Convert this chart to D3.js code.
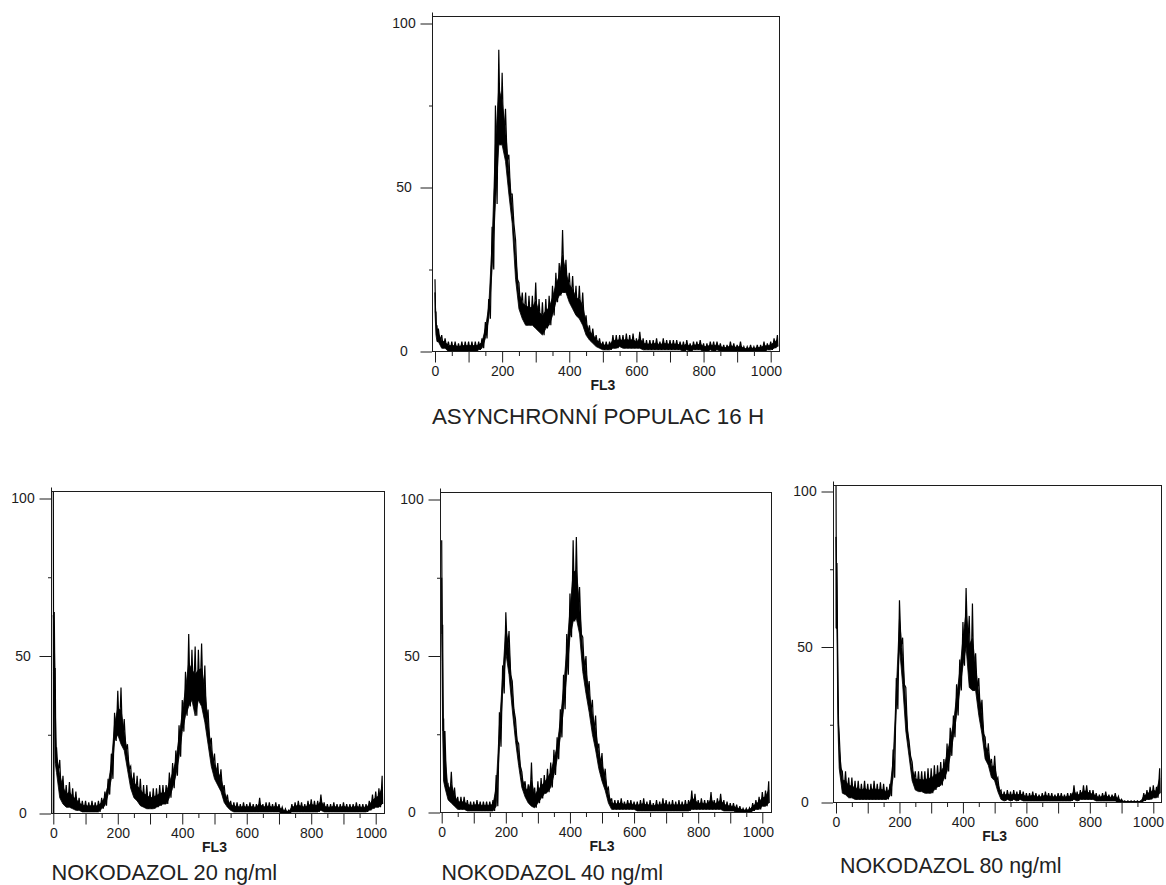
<!DOCTYPE html>
<html><head><meta charset="utf-8">
<script src="https://cdn.jsdelivr.net/npm/d3@7"></script>
<style>
body{margin:0;background:#fff}
svg{display:block}
text{font-family:"Liberation Sans",Arial,sans-serif}
</style>
</head><body>
<svg id="c" width="1166" height="885"></svg>
<script>
// FL3 channel grid (histogram bins)
const channels = [0,3,6,
  10,20,30,40,50,60,70,80,90,100,
  110,120,130,140,150,160,170,180,190,200,
  210,220,230,240,250,260,270,280,290,300,
  310,320,330,340,350,360,370,380,390,400,
  410,420,430,440,450,460,470,480,490,500,
  510,520,530,540,550,560,570,580,590,600,
  610,620,630,640,650,660,670,680,690,700,
  710,720,730,740,750,760,770,780,790,800,
  810,820,830,840,850,860,870,880,890,900,
  910,920,930,940,950,960,970,980,990,1000,
  1010,1020];

// ASYNCHRONNÍ POPULAC 16 H : upper / lower envelope of counts per bin
const asyncHi = [22,12,8,
  7,5,4,3,3,3,2.5,3,3,3,
  3,3,3,4,9,16,38,75,92,85,
  74,60,48,34,21,18,18,17,17,21,
  16,15,16,17,20,24,27,37,28,24,
  23,20,20,18,11,8,7,5,4,3,
  3,3,5,5,5,5,5.5,5,5.5,4,
  6,4,3.5,3.5,3.5,4,3,4,3.5,3.5,
  3.5,3.5,3,3,3.5,2.5,3,3,3.5,2.5,
  2.5,3,3,3,2.5,2,2,3,2.5,2,
  3,1.5,1.5,2,1.5,2,2,3,2.5,3,
  4,5];
const asyncLo = [12,5,3,
  3,1,1,0,0,0,0,0,0,0,
  0,0,0.5,1,4,10,25,45,63,63,
  58,48,39,22,13,10,8,8,8,7,
  6,5,7,8,11,15,17,18,18,15,
  13,11,10,8,5,3.5,2.5,1.5,1,0.5,
  0.5,0.5,1,1,1.5,1,1,1,1,1,
  1,0.5,0.5,0.5,0.5,0.5,0.5,0.5,0.5,0.5,
  0.5,0.5,0.5,0,0.5,0,0.5,0.5,0.5,0,
  0,0.5,0,0.5,0,0,0,0,0,0,
  0,0,0,0,0,0,0,0,0.5,0.5,
  1,1.5];

// NOKODAZOL 20 ng/ml
const noc20Hi = [105,64,46,
  21,17,12,9,10,8,7,5,4,4,
  3.5,4,3.5,4,5,7,11,19,32,39,
  40,30,22,15,13,12,11,9,9,7,
  8,8,9,9,9,13,16,20,28,36,
  45,57,52,53,52,54,47,33,24,19,
  16,14,9,6,4,3.5,3.5,3,3.5,3,
  3.5,3,3,5,3,3.5,3.5,3,3.5,3,
  2,1.5,1,3,3.5,4,3.5,3,4,4.5,
  4,4,6,3.5,3,3,3.5,3,3,3.5,
  3,3,3,3.5,3,3,3,4,6,7,
  8,12];
const noc20Lo = [0,46,16,
  13,5,3,2,2,1.5,1,1,0.5,0.5,
  0.5,0.5,0.5,0.5,1.5,2.5,6,11,23,25,
  22,20,14,8,5,4,2.5,2,1.5,1.5,
  1.5,2,2.5,3,3,5,8,12,18,26,
  31,34,36,31,36,34,29,22,15,11,
  9,7,3.5,2,1,0.5,0.5,0.5,0.5,0.5,
  0.5,0.5,0.5,0.5,0.5,0.5,0.5,0.5,0.5,0.5,
  0,0,0,0.5,0.5,0.5,0.5,0.5,0.5,0.5,
  0.5,0.5,1,0.5,0.5,0.5,0.5,0.5,0.5,0.5,
  0.5,0.5,0.5,0.5,0.5,0.5,0.5,1,1.5,2,
  2,3];

// NOKODAZOL 40 ng/ml
const noc40Hi = [87,60,30,
  26,9,13,8,5,5,5,4,3.5,3.5,
  4,3.5,3.5,3.5,3.5,4,12,32,47,64,
  58,42,30,22,13,10,9,16,8,10,
  11,12,14,16,20,24,33,44,57,70,
  87,88,72,56,50,42,36,31,22,19,
  14,8,4.5,4,4,4.5,3.5,4,4,3.5,
  3.5,4,4.5,3.5,4,3,4,3.5,4.5,4,
  3.5,4,3.5,4,3.5,4,4,7,6,4,
  4.5,4,4,6.5,4,4.5,6,4,3.5,3,
  3,2.5,2,1.3,1.3,1.5,3,4,5,6.5,
  7,10];
const noc40Lo = [57,26,10,
  8,4,3,2,1,1,1,0.5,0.5,0.5,
  0.5,0.5,0.5,0.5,0.5,0.5,2,21,38,51,
  44,33,23,15,8,5,3,2,1.5,3,
  4.5,6,6.5,8,12,17,24,33,44,56,
  61,62,57,45,38,32,25,20,14,10,
  7,3,1,1,1,1,1,1,1,1,
  0.5,0.5,0.5,0.5,0.5,0.5,0.5,0.5,0.5,0.5,
  0.5,0.5,0.5,0.5,0.5,0.5,0.5,1,1,1,
  1,1,1,1,1,1,1,0.5,0.5,0.5,
  0.5,0,0,0,0,0,0.5,1,1,2,
  2,3];

// NOKODAZOL 80 ng/ml
const noc80Hi = [105,77,42,
  22,10,10,8,8,7,7,6,7,6,
  6,7,6,6.5,6,5,6,17,40,65,
  53,37,20,13,10,10,10,10,11,11,
  12,12,13,14,19,24,28,38,46,58,
  69,60,64,48,40,33,21,19,14,15,
  8,4,3.5,4,3.5,4,3.5,4,3.5,3,
  3,3.5,3,2.5,3,3.5,3,3,2.5,3,
  3,2.5,3,3,5.5,3.5,4,5.5,5.5,4,
  4,3,2.5,3,3.5,2.5,2.5,3,2,1,
  0.5,0.5,0.5,0.5,0.5,0.5,3,4,5,5.5,
  5,11];
const noc80Lo = [56,56,25,
  11,3,2.5,1.5,1.5,1,1,1,1,1,
  1,1,1,1,1,1,2,8,30,50,
  38,23,15,7,4,3.5,3.5,3,3,3,
  4,5,5.5,7.5,10,15,21,28,36,44,
  50,37,36,36,28,22,14,12,8,7,
  3.5,1,0.5,1,0.5,1,0.5,1,0.5,0.5,
  0.5,0.5,0.5,0.5,0.5,0.5,0.5,0.5,0.5,0.5,
  0.5,0.5,0.5,0.5,1,0.5,1,1,1,1,
  1,0.5,0.5,0.5,0.5,0.5,0.5,0.5,0,0,
  0,0,0,0,0,0,0.5,1,1,1.5,
  1.5,3];

const titles = ["ASYNCHRONNÍ POPULAC 16 H","NOKODAZOL 20 ng/ml","NOKODAZOL 40 ng/ml","NOKODAZOL 80 ng/ml"];
const xAxisTitle = "FL3";
const xMajorTicks = [0,100,200,300,400,500,600,700,800,900,1000];
const xLabelTicks = [0,200,400,600,800,1000];
const xMinorTicks = [50,150,250,350,450,550,650,750,850,950];
const yTicks = [0,50,100];
const yMinorTicks = [25,75];

const series = [[asyncHi,asyncLo],[noc20Hi,noc20Lo],[noc40Hi,noc40Lo],[noc80Hi,noc80Lo]];

// panel placement on the page
const layout = [
  {axisX:432, top:16,  right:779,  base:351, y100:23,  x0:435,  x1000:770.7, tx:598, ty:424, anchor:"middle", fs:22.4},
  {axisX:51,  top:491, right:384,  base:813, y100:498, x0:53.3, x1000:375.7, tx:51.5, ty:880, anchor:"start", fs:21.8},
  {axisX:440, top:492, right:771,  base:812, y100:499, x0:441.7,x1000:762.3, tx:441.5, ty:880, anchor:"start", fs:21.4},
  {axisX:833, top:485, right:1161, base:802, y100:491, x0:836,  x1000:1153.3,tx:840, ty:873, anchor:"start", fs:21.4}
];

const svg = d3.select("#c");
const ink = "#1c1c1c";

series.forEach(([hi, lo], i) => {
  const L = layout[i];
  const x = d3.scaleLinear().domain([0,1000]).range([L.x0, L.x1000]);
  const y = d3.scaleLinear().domain([0,100]).range([L.base + 0.5, L.y100 + 0.5]);
  const g = svg.append("g");

  const clipId = "clip" + i;
  svg.append("clipPath").attr("id", clipId).append("rect")
    .attr("x", L.axisX).attr("y", L.top + 0.5)
    .attr("width", L.right - L.axisX).attr("height", L.base - L.top);

  // solid core of the noisy band
  const bins = channels.map((c, j) => ({c, hi: hi[j], lo: lo[j]}));
  const core = d3.area()
    .x(d => x(d.c))
    .y0(d => y(d.lo))
    .y1(d => y(d.lo + 0.6 * (d.hi - d.lo)));
  g.append("path").attr("d", core(bins))
    .attr("clip-path", `url(#${clipId})`)
    .attr("fill", "#000").attr("stroke", "#000").attr("stroke-width", 0.8);

  // zigzag between upper and lower envelope of each bin
  const pts = [];
  channels.forEach((c, j) => {
    const next = j < channels.length - 1 ? channels[j + 1] : c + 3;
    pts.push([c, hi[j]]);
    pts.push([(c + next) / 2, lo[j]]);
  });
  const line = d3.line().x(d => x(d[0])).y(d => y(d[1]));
  g.append("path").attr("d", line(pts))
    .attr("clip-path", `url(#${clipId})`)
    .attr("fill", "none").attr("stroke", "#000").attr("stroke-width", 1.2);

  // frame
  g.append("rect")
    .attr("x", L.axisX + 0.5).attr("y", L.top + 0.5)
    .attr("width", L.right - L.axisX).attr("height", L.base - L.top)
    .attr("fill", "none").attr("stroke", ink).attr("stroke-width", 1);
  // y axis line extends a bit above the frame
  g.append("line")
    .attr("x1", L.axisX + 0.5).attr("x2", L.axisX + 0.5)
    .attr("y1", L.top - 3.5).attr("y2", L.base + 0.5)
    .attr("stroke", ink);

  // x axis
  const xa = g.append("g").attr("transform", `translate(0,${L.base})`)
    .call(d3.axisBottom(x).tickValues(xMajorTicks).tickSize(11.5).tickPadding(4)
      .tickFormat(d => xLabelTicks.includes(d) ? d : ""));
  g.append("g").attr("transform", `translate(0,${L.base})`)
    .call(d3.axisBottom(x).tickValues(xMinorTicks).tickSize(5).tickFormat(""));
  // last label is pulled in so that it ends at the frame edge
  xa.selectAll(".tick").filter(d => d === 1000).select("text")
    .attr("text-anchor", "end").attr("x", L.right + 2.5 - x(1000));

  // y axis
  const ya = g.append("g").attr("transform", `translate(${L.axisX},0)`)
    .call(d3.axisLeft(y).tickValues(yTicks).tickSize(11.5).tickFormat(d3.format("d")));
  g.append("g").attr("transform", `translate(${L.axisX},0)`)
    .call(d3.axisLeft(y).tickValues(yMinorTicks).tickSize(3).tickFormat(""));
  ya.selectAll("text").attr("x", -28).attr("text-anchor", "middle");

  g.selectAll(".domain").remove();
  g.selectAll(".tick line").attr("stroke", ink);
  g.selectAll(".tick text").attr("font-size", 14).attr("fill", ink)
    .attr("font-family", '"Liberation Sans",Arial,sans-serif');

  g.append("text").attr("x", x(500)).attr("y", L.base + 39)
    .attr("text-anchor", "middle").attr("font-size", 14).attr("font-weight", "bold")
    .attr("fill", ink).text(xAxisTitle);

  g.append("text").attr("x", L.tx).attr("y", L.ty)
    .attr("text-anchor", L.anchor).attr("font-size", L.fs).attr("fill", "#222")
    .text(titles[i]);
});
</script>
</body></html>
